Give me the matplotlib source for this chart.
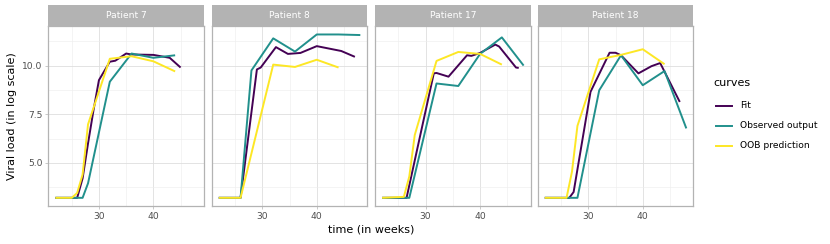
import matplotlib
matplotlib.use("Agg")
import matplotlib.pyplot as plt
from matplotlib.lines import Line2D
from matplotlib.ticker import MultipleLocator

# --- data (weeks, log viral load) ---
patients = ["Patient 7", "Patient 8", "Patient 17", "Patient 18"]

fit_t = [
    [22, 26, 27, 28, 29, 30, 32, 33, 35, 36, 40, 43, 45],
    [22, 26, 29, 29.7, 32.5, 34.7, 37, 40, 44.5, 47],
    [22, 26.5, 31.5, 32, 34.2, 37.6, 38.4, 40, 42.8, 43.5, 46.6, 47.1],
    [22, 26.5, 27.3, 30.4, 33.9, 35, 36, 39.2, 41.6, 43.2, 46.8],
]
fit_v = [
    [3.2, 3.2, 4.2, 6.0, 7.7, 9.25, 10.2, 10.25, 10.62, 10.57, 10.55, 10.4, 9.9],
    [3.2, 3.2, 9.8, 9.9, 10.95, 10.6, 10.65, 11.0, 10.75, 10.45],
    [3.2, 3.2, 9.6, 9.62, 9.43, 10.53, 10.5, 10.65, 11.08, 10.98, 9.9, 9.88],
    [3.2, 3.2, 3.5, 8.65, 10.66, 10.66, 10.53, 9.6, 9.97, 10.13, 8.13],
]

obs_t = [
    [22, 27, 28, 32, 36, 40, 44],
    [22, 26, 28, 32, 36, 40, 44, 48],
    [22, 27, 32, 36, 40, 44, 48],
    [22, 28, 32, 36, 40, 44, 48],
]
obs_v = [
    [3.2, 3.2, 3.95, 9.17, 10.62, 10.4, 10.53],
    [3.2, 3.2, 9.75, 11.4, 10.72, 11.6, 11.6, 11.57],
    [3.2, 3.2, 9.08, 8.95, 10.6, 11.45, 10.0],
    [3.2, 3.2, 8.73, 10.53, 8.99, 9.72, 6.77],
]

oob_t = [
    [22, 25, 26, 27, 28, 32, 36, 40, 44],
    [22, 26, 32, 36, 40, 44],
    [22, 26, 27, 28, 32, 36, 40, 44],
    [22, 26, 27, 28, 32, 36, 40, 44],
]
oob_v = [
    [3.2, 3.2, 3.45, 4.4, 6.98, 10.35, 10.48, 10.22, 9.7],
    [3.2, 3.2, 10.05, 9.93, 10.3, 9.9],
    [3.2, 3.25, 4.3, 6.43, 10.24, 10.7, 10.6, 10.05],
    [3.2, 3.2, 4.55, 6.9, 10.32, 10.55, 10.84, 10.07],
]

curve_names = ["Fit", "Observed output", "OOB prediction"]
colors = ["#440154", "#21908C", "#FDE725"]

W, H = 830, 244
fig = plt.figure(figsize=(W / 100, H / 100), dpi=100)
plt.rcParams["font.family"] = "DejaVu Sans"


def box(x0, y0, x1, y1):
    # pixel box (top-left origin) -> figure fraction
    return [x0 / W, 1 - y1 / H, (x1 - x0) / W, (y1 - y0) / H]


grey70 = "#B3B3B3"
panel_w = 155.7
lefts = [48.3, 211.7, 375.0, 537.7]
top, bottom = 26.3, 206.0

for i, name in enumerate(patients):
    ax = fig.add_axes(box(lefts[i], top, lefts[i] + panel_w, bottom))
    series = [(fit_t[i], fit_v[i]), (obs_t[i], obs_v[i]), (oob_t[i], oob_v[i])]
    for (t, v), c in zip(series, colors):
        ax.plot(t, v, color=c, lw=1.4, solid_capstyle="butt", zorder=3)
    ax.set_xlim(20.7, 49.3)
    ax.set_ylim(2.78, 12.02)
    ax.xaxis.set_major_locator(MultipleLocator(10))
    ax.xaxis.set_minor_locator(MultipleLocator(5))
    ax.yaxis.set_major_locator(MultipleLocator(2.5))
    ax.yaxis.set_minor_locator(MultipleLocator(1.25))
    ax.grid(which="major", color="#DEDEDE", lw=0.6)
    ax.grid(which="minor", color="#EDEDED", lw=0.4)
    ax.set_axisbelow(True)
    for s in ax.spines.values():
        s.set_color(grey70)
        s.set_linewidth(0.9)
    ax.tick_params(which="major", length=2.5, width=0.5, color=grey70,
                   labelsize=6.6, labelcolor="#4D4D4D", pad=1.5)
    ax.tick_params(which="minor", length=0)
    ax.set_xticks([30, 40])
    ax.set_xticklabels(["30", "40"])
    if i == 0:
        ax.set_yticks([5, 7.5, 10])
        ax.set_yticklabels(["5.0", "7.5", "10.0"])
    else:
        ax.tick_params(axis="y", which="major", labelleft=False, length=0)

    # strip
    sax = fig.add_axes(box(lefts[i], 5.0, lefts[i] + panel_w, top))
    sax.set_facecolor(grey70)
    sax.set_xticks([])
    sax.set_yticks([])
    for s in sax.spines.values():
        s.set_visible(False)
    sax.text(0.5, 0.5, name, color="white", fontsize=6.6,
             ha="center", va="center", transform=sax.transAxes)

fig.text(371 / W, 1 - 230 / H, "time (in weeks)", ha="center", va="center",
         fontsize=8)
fig.text(12 / W, 1 - 116 / H, "Viral load (in log scale)", ha="center",
         va="center", rotation=90, fontsize=8)

# legend
fig.text(713 / W, 1 - 83 / H, "curves", ha="left", va="center", fontsize=8)
for k, (lab, c) in enumerate(zip(curve_names, colors)):
    y = 106 + 20 * k
    fig.add_artist(Line2D([716 / W, 732 / W], [1 - y / H, 1 - y / H],
                          color=c, lw=1.4))
    fig.text(740 / W, 1 - y / H, lab, ha="left", va="center", fontsize=6.6)

fig.savefig("out.png", dpi=100)
